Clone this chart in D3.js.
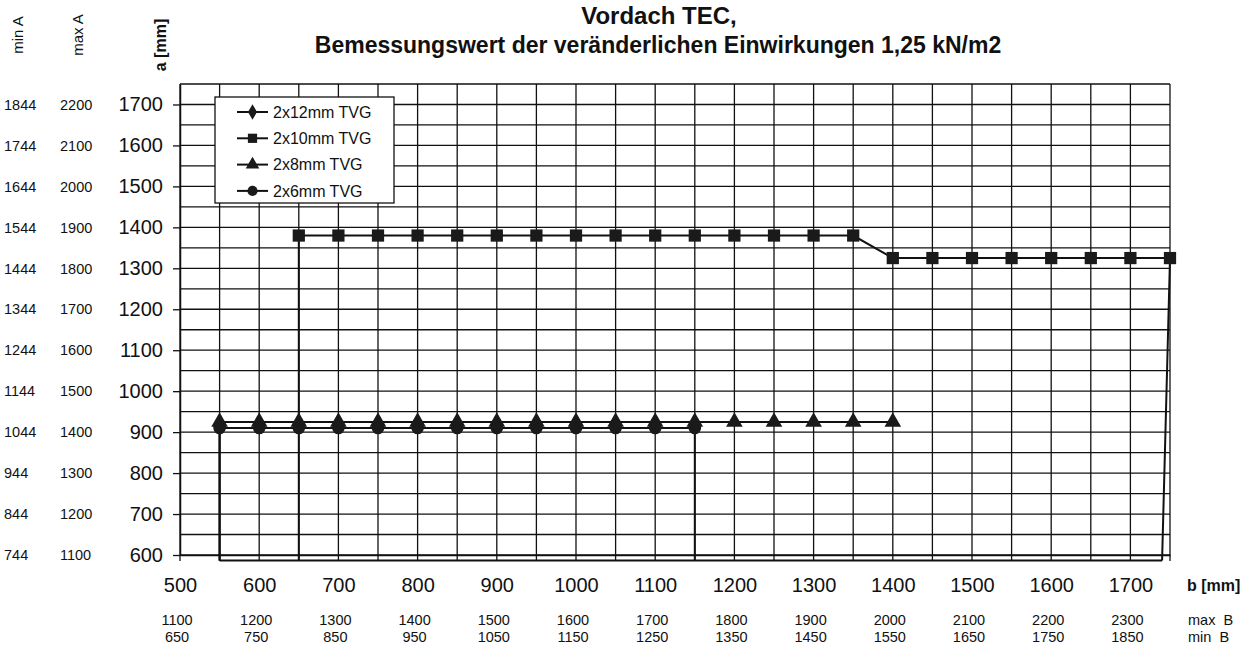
<!DOCTYPE html>
<html>
<head>
<meta charset="utf-8">
<script src="https://cdn.jsdelivr.net/npm/d3@7"></script>
<style>
  body { margin: 0; background: #fff; }
  svg { display: block; }
  text { font-family: "Liberation Sans", Arial, Helvetica, sans-serif; fill: #111; }
</style>
</head>
<body>
<svg id="chart" width="1255" height="650"></svg>
<script>
// ---- b axis: tick labels and the B limits printed under each tick ----
const bTicks = [500, 600, 700, 800, 900, 1000, 1100, 1200, 1300, 1400, 1500, 1600, 1700];
const maxB   = [1100, 1200, 1300, 1400, 1500, 1600, 1700, 1800, 1900, 2000, 2100, 2200, 2300];
const minB   = [650, 750, 850, 950, 1050, 1150, 1250, 1350, 1450, 1550, 1650, 1750, 1850];

// ---- a axis: tick labels and the A limits printed beside each tick ----
const aTicks = [600, 700, 800, 900, 1000, 1100, 1200, 1300, 1400, 1500, 1600, 1700];
const maxA   = [1100, 1200, 1300, 1400, 1500, 1600, 1700, 1800, 1900, 2000, 2100, 2200];
const minA   = [744, 844, 944, 1044, 1144, 1244, 1344, 1444, 1544, 1644, 1744, 1844];

// ---- glass build-ups (b in mm, admissible a in mm; 0 = not admissible) ----
const seriesNames = ["2x12mm TVG", "2x10mm TVG", "2x8mm TVG", "2x6mm TVG"];

const b12 = [550, 600, 650, 700, 750, 800, 850, 900, 950, 1000, 1050, 1100, 1150, 1200,
             1250, 1300, 1350, 1400, 1450, 1500, 1550, 1600, 1650, 1700, 1740];
const a12 = [0, 0, 0, 0, 0, 0, 0, 0, 0, 0, 0, 0, 0, 0, 0, 0, 0, 0, 0, 0, 0, 0, 0, 0, 0];

const b10 = [650, 650, 700, 750, 800, 850, 900, 950, 1000, 1050, 1100, 1150, 1200, 1250, 1300, 1350,
             1400, 1450, 1500, 1550, 1600, 1650, 1700, 1750, 1740];
const a10 = [0, 1380, 1380, 1380, 1380, 1380, 1380, 1380, 1380, 1380, 1380, 1380, 1380, 1380, 1380, 1380,
             1325, 1325, 1325, 1325, 1325, 1325, 1325, 1325, 0];

const b8 = [550, 550, 600, 650, 700, 750, 800, 850, 900, 950, 1000, 1050, 1100, 1150, 1200,
            1250, 1300, 1350, 1400];
const a8 = [0, 925, 925, 925, 925, 925, 925, 925, 925, 925, 925, 925, 925, 925, 925,
            925, 925, 925, 925];

const b6 = [550, 550, 600, 650, 700, 750, 800, 850, 900, 950, 1000, 1050, 1100, 1150, 1150];
const a6 = [0, 910, 910, 910, 910, 910, 910, 910, 910, 910, 910, 910, 910, 910, 0];

const series = [
  { name: seriesNames[0], b: b12, a: a12, symbol: d3.symbolDiamond,  size: 130, legendSize: 70 },
  { name: seriesNames[1], b: b10, a: a10, symbol: d3.symbolSquare,   size: 150, legendSize: 85 },
  { name: seriesNames[2], b: b8,  a: a8,  symbol: d3.symbolTriangle, size: 120, legendSize: 80 },
  { name: seriesNames[3], b: b6,  a: a6,  symbol: d3.symbolCircle,   size: 125, legendSize: 80 }
];

const ink = "#111";
const svg = d3.select("#chart");

const x = d3.scaleLinear().domain([500, 1750]).range([180, 1170]);
const y = d3.scaleLinear().domain([600, 1750]).range([555, 84]);
// values under the axis minimum run along the lower edge of the plot area
const floorY = y(600) + 5.5;
const yLine = v => Math.min(y(v), floorY);

const gridB = d3.range(500, 1751, 50);
const gridA = d3.range(600, 1751, 50);
const plain = d3.format("d");

// ---- grid ----
const grid = svg.append("g").attr("stroke", ink).attr("stroke-width", 1.3);
grid.selectAll("line.gv").data(gridB).join("line")
  .attr("x1", d => x(d)).attr("x2", d => x(d))
  .attr("y1", y(1750)).attr("y2", floorY + 0.5);
grid.selectAll("line.gh").data(gridA).join("line")
  .attr("x1", x(500)).attr("x2", x(1750))
  .attr("y1", d => y(d)).attr("y2", d => y(d));

// ---- axes ----
const yAxis = svg.append("g")
  .attr("transform", `translate(${x(500)},0)`)
  .call(d3.axisLeft(y).tickValues(aTicks).tickFormat(plain)
    .tickSize(7).tickSizeOuter(0).tickPadding(10));
yAxis.select(".domain").attr("stroke", ink).attr("stroke-width", 1.5);
yAxis.selectAll(".tick line").attr("stroke", ink).attr("stroke-width", 1.3);
yAxis.selectAll(".tick text")
  .style("font-size", "20px").attr("fill", ink)
  .style("font-family", '"Liberation Sans", Arial, sans-serif');

const xAxis = svg.append("g")
  .attr("transform", `translate(0,${y(600)})`)
  .call(d3.axisBottom(x).tickValues(bTicks).tickFormat(plain)
    .tickSize(0).tickSizeOuter(0).tickPadding(23));
xAxis.select(".domain").attr("stroke", ink).attr("stroke-width", 1.5);
xAxis.selectAll(".tick text")
  .style("font-size", "20px").attr("fill", ink)
  .style("font-family", '"Liberation Sans", Arial, sans-serif');

// ---- series lines and markers ----
const line = d3.line().x(d => x(d.b)).y(d => yLine(d.a));
series.forEach(s => {
  const pts = s.b.map((b, i) => ({ b, a: s.a[i] }));
  svg.append("path")
    .datum(pts)
    .attr("d", line)
    .attr("fill", "none")
    .attr("stroke", ink)
    .attr("stroke-width", 2)
    .attr("stroke-linejoin", "miter");
  svg.append("g").selectAll("path")
    .data(pts.filter(p => p.a >= 600))
    .join("path")
    .attr("transform", p => `translate(${x(p.b)},${y(p.a)})`)
    .attr("d", d3.symbol().type(s.symbol).size(s.size))
    .attr("fill", "#1a1a1a");
});

// ---- legend ----
const legend = svg.append("g").attr("transform", "translate(215,97)");
legend.append("rect")
  .attr("width", 179).attr("height", 106)
  .attr("fill", "#fff").attr("stroke", ink).attr("stroke-width", 1.3);
const rows = legend.selectAll("g.row").data(series).join("g")
  .attr("transform", (d, i) => `translate(0,${15 + i * 26.3})`);
rows.append("line")
  .attr("x1", 22).attr("x2", 53).attr("y1", 0).attr("y2", 0)
  .attr("stroke", ink).attr("stroke-width", 2);
rows.append("path")
  .attr("transform", "translate(37.5,0)")
  .attr("d", d => d3.symbol().type(d.symbol).size(d.legendSize)())
  .attr("fill", "#1a1a1a");
rows.append("text")
  .attr("x", 58).attr("y", 0).attr("dy", "0.36em")
  .style("font-size", "16px")
  .text(d => d.name);

// ---- A limit columns ----
svg.append("g").selectAll("text").data(minA).join("text")
  .attr("x", 4).attr("y", (d, i) => y(aTicks[i])).attr("dy", "0.36em")
  .style("font-size", "14.5px").text(d => d);
svg.append("g").selectAll("text").data(maxA).join("text")
  .attr("x", 60).attr("y", (d, i) => y(aTicks[i])).attr("dy", "0.36em")
  .style("font-size", "14.5px").text(d => d);

// ---- B limit rows ----
svg.append("g").selectAll("text").data(maxB).join("text")
  .attr("x", (d, i) => x(bTicks[i]) - 3).attr("y", 625)
  .attr("text-anchor", "middle").style("font-size", "14.5px").text(d => d);
svg.append("g").selectAll("text").data(minB).join("text")
  .attr("x", (d, i) => x(bTicks[i]) - 3).attr("y", 642)
  .attr("text-anchor", "middle").style("font-size", "14.5px").text(d => d);
svg.append("text").attr("x", 1188).attr("y", 625).style("font-size", "14.5px")
  .style("white-space", "pre").text("max  B");
svg.append("text").attr("x", 1188).attr("y", 642).style("font-size", "14.5px")
  .style("white-space", "pre").text("min  B");

// ---- axis titles ----
svg.append("text").attr("x", 1187).attr("y", 591)
  .style("font-size", "16px").style("font-weight", "bold").text("b [mm]");
const vLabel = (tx, ty, txt, bold, size) =>
  svg.append("text")
    .attr("transform", `translate(${tx},${ty}) rotate(-90)`)
    .attr("text-anchor", "middle")
    .style("font-size", size + "px")
    .style("font-weight", bold ? "bold" : "normal")
    .text(txt);
vLabel(23, 35, "min A", false, 15);
vLabel(83, 35, "max A", false, 15);
vLabel(166, 45, "a [mm]", true, 16);

// ---- title ----
svg.append("text").attr("x", 659).attr("y", 24).attr("text-anchor", "middle")
  .style("font-size", "24px").style("font-weight", "bold").text("Vordach TEC,");
svg.append("text").attr("x", 658).attr("y", 53).attr("text-anchor", "middle")
  .style("font-size", "23px").style("font-weight", "bold")
  .text("Bemessungswert der veränderlichen Einwirkungen 1,25 kN/m2");
</script>
</body>
</html>
